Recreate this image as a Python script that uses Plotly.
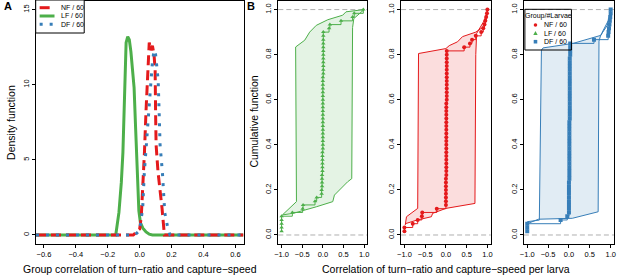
import numpy as np
import plotly.graph_objects as go

# ---------------- data ----------------
groups = ["NF", "LF", "DF"]
n_larvae = [60, 60, 60]

# Panel A: group-correlation density curves
dens_x_LF = [-0.65, -0.15, -0.13, -0.115, -0.105, -0.1, -0.095, -0.085, -0.075, -0.065, -0.055,
             -0.045, -0.035, -0.025, -0.015, -0.005, 0.005, 0.02, 0.04, 0.06, 0.08, 0.65]
dens_LF = [0, 0, 1.5, 3.5, 5.5, 7.5, 10.0, 12.8, 13.2, 13.0, 12.2,
           11.2, 9.8, 7.0, 4.0, 1.6, 0.8, 0.45, 0.2, 0.05, 0, 0]

dens_x_NF = [-0.65, -0.04, -0.02, 0.0, 0.01, 0.02, 0.03, 0.04, 0.05, 0.055, 0.06, 0.07,
             0.08, 0.09, 0.097, 0.1, 0.103, 0.115, 0.13, 0.14, 0.155, 0.65]
dens_NF = [0, 0, 0.2, 0.4, 1.2, 3.0, 5.5, 8.3, 10.5, 12.0, 12.8, 12.3,
           12.6, 12.0, 11.0, 8.0, 6.0, 4.2, 2.8, 1.8, 0, 0]

dens_x_DF = [-0.65, -0.03, 0.0, 0.012, 0.019, 0.029, 0.043, 0.056, 0.07, 0.08, 0.09, 0.1,
             0.116, 0.122, 0.128, 0.143, 0.149, 0.157, 0.174, 0.19, 0.65]
dens_DF = [0, 0, 0.3, 1.07, 1.8, 4.1, 6.0, 7.6, 10.1, 11.5, 12.3, 12.0,
           10.3, 8.2, 6.0, 4.1, 2.9, 1.5, 0.6, 0, 0]

# Panel B: per-larva correlations (60 larvae each)
corr_LF = [-1.0, -1.0, -1.0, -1.0, -1.0, -0.74, -0.49, -0.48, -0.19, -0.15,
           -0.03, -0.03, -0.02, -0.02, -0.02, -0.02, -0.01, -0.01, -0.01, -0.01,
           -0.01, -0.01, 0.0, 0.0, 0.0, 0.0, 0.0, 0.0, 0.0, 0.0,
           0.0, 0.0, 0.0, 0.0, 0.0, 0.0, 0.0, 0.0, 0.0, 0.0,
           0.0, 0.0, 0.01, 0.01, 0.01, 0.01, 0.01, 0.01, 0.01, 0.01,
           0.01, 0.01, 0.01, 0.01, 0.15, 0.17, 0.44, 0.72, 0.76, 0.98]
corr_NF = [-1.0, -1.0, -0.80, -0.68, -0.58, -0.57, -0.22,
           0.0, 0.0, 0.0, 0.0, 0.0, 0.0, 0.0, 0.0, 0.01, 0.01,
           0.01, 0.01, 0.01, 0.01, 0.01, 0.01, 0.01, 0.01, 0.01, 0.01,
           0.01, 0.01, 0.01, 0.01, 0.01, 0.01, 0.01, 0.01, 0.02, 0.02,
           0.02, 0.02, 0.02, 0.02, 0.02, 0.02, 0.02, 0.02, 0.02, 0.02,
           0.02, 0.02, 0.44, 0.58, 0.63, 0.72, 0.85, 0.90, 0.93, 0.95,
           0.97, 0.99, 1.0]
corr_DF = [-1.0, -1.0, -1.0, -0.20, -0.04,
           0.0, 0.0, 0.0, 0.0, 0.0, 0.0, 0.0, 0.0, 0.0, 0.01,
           0.01, 0.01, 0.01, 0.01, 0.01, 0.01, 0.01, 0.01, 0.01, 0.01,
           0.01, 0.01, 0.01, 0.01, 0.01, 0.02, 0.02, 0.02, 0.02, 0.02,
           0.02, 0.02, 0.02, 0.02, 0.02, 0.02, 0.02, 0.02, 0.02, 0.02,
           0.02, 0.02, 0.03, 0.03, 0.03, 0.03,
           0.60, 0.94, 0.95, 0.96, 0.97, 0.98, 0.99, 1.0, 1.0]

# Panel B: envelope polygons (correlation, cumulative)
env_LF_x = [-0.98, -0.64, -0.66, -0.44, -0.32, -0.16, 0.12, 0.48, 0.56, 1.0,
            0.75, 0.72, 0.70, 0.60, 0.28, 0.24, -0.16, -0.72, -0.98]
env_LF_y = [0.089, 0.148, 0.834, 0.864, 0.90, 0.93, 0.955, 0.975, 0.99, 1.0,
            0.96, 0.92, 0.25, 0.236, 0.177, 0.148, 0.125, 0.096, 0.089]
env_NF_x = [-0.98, -0.95, -0.68, -0.66, 0.0, 0.08, 0.28, 0.40, 0.72, 0.88, 0.96, 1.0,
            0.92, 0.74, 0.72, 0.70, 0.0, -0.32, -0.35, -0.70, -0.98]
env_NF_y = [0.044, 0.081, 0.118, 0.805, 0.827, 0.84, 0.857, 0.88, 0.90, 0.92, 0.95, 0.995,
            0.95, 0.894, 0.80, 0.14, 0.118, 0.096, 0.081, 0.066, 0.05]
env_DF_x = [-1.0, -0.71, -0.66, -0.62, 0.10, 0.77, 0.80, 0.96, 1.0,
            0.92, 0.76, 0.72, 0.70, 0.08, -0.73, -1.0]
env_DF_y = [0.059, 0.066, 0.82, 0.83, 0.85, 0.886, 0.90, 0.957, 1.0,
            0.93, 0.886, 0.86, 0.103, 0.074, 0.07, 0.05]

# ---------------- styling ----------------
RED, GREEN, BLUE = "#E41A1C", "#4DAF4A", "#377EB8"
FILL = {"NF": "rgba(228,26,28,0.15)", "LF": "rgba(77,175,74,0.15)", "DF": "rgba(55,126,184,0.15)"}
COL = {"NF": RED, "LF": GREEN, "DF": BLUE}
SYM = {"NF": "circle", "LF": "triangle-up", "DF": "square"}
FONT = "Liberation Sans, Arial, sans-serif"
W, H = 617, 279


def pxx(x):
    return x / W


def pxy(y):
    return 1 - y / H


fig = go.Figure()

# Panel A curves
fig.add_trace(go.Scatter(x=dens_x_LF, y=dens_LF, mode="lines", line=dict(color=GREEN, width=3),
                         xaxis="x", yaxis="y", showlegend=False))
fig.add_trace(go.Scatter(x=dens_x_NF, y=dens_NF, mode="lines",
                         line=dict(color=RED, width=3, dash="10px,5px"),
                         xaxis="x", yaxis="y", showlegend=False))
fig.add_trace(go.Scatter(x=dens_x_DF, y=dens_DF, mode="lines",
                         line=dict(color=BLUE, width=3, dash="3px,7px"),
                         xaxis="x", yaxis="y", showlegend=False))

# Panel B
panels = [("LF", corr_LF, env_LF_x, env_LF_y, "x2", "y2"),
          ("NF", corr_NF, env_NF_x, env_NF_y, "x3", "y3"),
          ("DF", corr_DF, env_DF_x, env_DF_y, "x4", "y4")]
for g, vals, ex, ey, xa, ya in panels:
    fig.add_trace(go.Scatter(x=ex, y=ey, mode="lines", fill="toself", fillcolor=FILL[g],
                             line=dict(color=COL[g], width=1), xaxis=xa, yaxis=ya, showlegend=False))
    v = np.sort(np.array(vals))
    F = np.arange(1, len(v) + 1) / len(v)
    fig.add_trace(go.Scatter(x=v, y=F, mode="lines+markers", line=dict(color=COL[g], width=1, shape="hv"),
                             marker=dict(symbol=SYM[g], size=4, color=COL[g]),
                             xaxis=xa, yaxis=ya, showlegend=False))

ax_common = dict(showline=True, linecolor="black", linewidth=1, mirror=True, ticks="outside",
                 ticklen=3, tickcolor="black", tickfont=dict(size=7.5, color="black", family=FONT),
                 showgrid=False, zeroline=False)
ydom = [35 / H, 0.998]
layout = dict(
    width=W, height=H, margin=dict(l=0, r=0, t=0, b=0),
    paper_bgcolor="white", plot_bgcolor="white", showlegend=False,
    font=dict(family=FONT, color="black"),
    xaxis=dict(domain=[pxx(32), pxx(242)], range=[-0.652, 0.652],
               tickvals=[-0.6, -0.4, -0.2, 0.0, 0.2, 0.4, 0.6], tickformat=".1f", anchor="y", **ax_common),
    yaxis=dict(domain=ydom, range=[-0.6, 15.6], tickvals=[0, 5, 10, 15], tickangle=-90,
               anchor="x", **ax_common),
)
bdoms = [(277, 367), (401, 491.5), (525, 616)]
for i, (l, r) in enumerate(bdoms):
    k = i + 2
    layout[f"xaxis{k}"] = dict(domain=[pxx(l), pxx(r)], range=[-1.08, 1.08],
                               tickvals=[-1, -0.5, 0, 0.5, 1], tickformat=".1f", anchor=f"y{k}", **ax_common)
    layout[f"yaxis{k}"] = dict(domain=ydom, range=[-0.04, 1.04], tickvals=[0, 0.2, 0.4, 0.6, 0.8, 1.0],
                               tickformat=".1f", tickangle=-90, anchor=f"x{k}", **ax_common)
fig.update_layout(**layout)

shapes = []
for i in range(3):
    k = i + 2
    for yv in (0, 1):
        shapes.append(dict(type="line", xref=f"x{k} domain", yref=f"y{k}", x0=0, x1=1, y0=yv, y1=yv,
                           line=dict(color="#b0b0b0", width=1, dash="5px,3px"), layer="below"))

annotations = []


def ann(text, x, y, size, xanchor="center", yanchor="middle", angle=0):
    annotations.append(dict(text=text, x=pxx(x), y=pxy(y), xref="paper", yref="paper",
                            xanchor=xanchor, yanchor=yanchor, textangle=angle, showarrow=False,
                            font=dict(size=size)))


# panel letters
ann("<b>A</b>", 4.5, 5.5, 11)
ann("<b>B</b>", 249, 5.5, 11)
# axis titles
ann("Density function", 7, 122, 10.5, angle=-90)
ann("Cumulative function", 252, 122, 10.5, angle=-90)
ann("Group correlation of turn\u2212ratio and capture\u2212speed", 137, 269, 10.5)
ann("Correlation of turn\u2212ratio and capture\u2212speed per larva", 446, 269, 10.5)

# Legend A (manual)
shapes.append(dict(type="rect", xref="paper", yref="paper", x0=pxx(32), x1=pxx(81), y0=pxy(33), y1=pxy(0),
                   line=dict(color="black", width=1), fillcolor="white"))
legA = [("NF", RED, "10px,5px", 7.7), ("LF", GREEN, "solid", 16), ("DF", BLUE, "3px,7px", 24.3)]
for g, c, d, yy in legA:
    shapes.append(dict(type="line", xref="paper", yref="paper", x0=pxx(36), x1=pxx(51), y0=pxy(yy), y1=pxy(yy),
                       line=dict(color=c, width=3, dash=d)))
    ann(f"{g} / {n_larvae[groups.index(g)]}", 56, yy, 7, xanchor="left")

# Legend B (manual)
shapes.append(dict(type="rect", xref="paper", yref="paper", x0=pxx(526), x1=pxx(573), y0=pxy(50), y1=pxy(9.3),
                   line=dict(color="black", width=1)))
ann("Group/#Larvae", 549.5, 15.5, 7)
legB = [("NF", 25), ("LF", 33.3), ("DF", 41.7)]
mx = 536.7
for g, yy in legB:
    c = COL[g]
    if g == "NF":
        shapes.append(dict(type="circle", xref="paper", yref="paper", x0=pxx(mx - 1.8), x1=pxx(mx + 1.8),
                           y0=pxy(yy + 1.8), y1=pxy(yy - 1.8), fillcolor=c, line=dict(color=c, width=0)))
    elif g == "LF":
        p = f"M {pxx(mx-2.2)} {pxy(yy+1.8)} L {pxx(mx+2.2)} {pxy(yy+1.8)} L {pxx(mx)} {pxy(yy-2.2)} Z"
        shapes.append(dict(type="path", xref="paper", yref="paper", path=p, fillcolor=c,
                           line=dict(color=c, width=0)))
    else:
        shapes.append(dict(type="rect", xref="paper", yref="paper", x0=pxx(mx - 1.8), x1=pxx(mx + 1.8),
                           y0=pxy(yy + 1.8), y1=pxy(yy - 1.8), fillcolor=c, line=dict(color=c, width=0)))
    ann(f"{g} / {n_larvae[groups.index(g)]}", 543, yy, 7, xanchor="left")

fig.update_layout(shapes=shapes, annotations=annotations)
fig.write_html("out.html", config={"displayModeBar": False},
               post_script="document.body.style.margin='0';document.body.style.overflow='hidden';")
